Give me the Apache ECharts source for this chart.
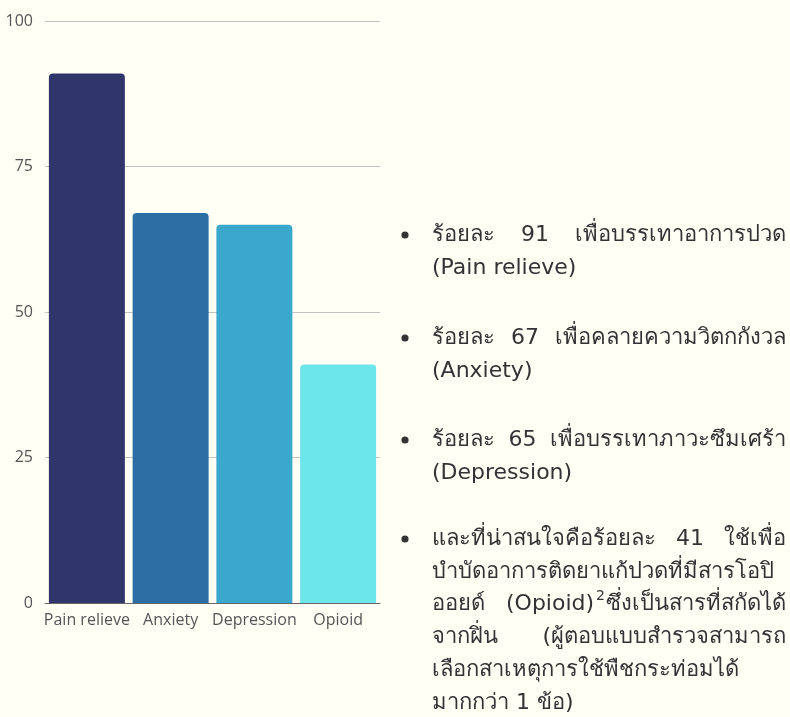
<!DOCTYPE html>
<html><head><meta charset="utf-8">
<script src="https://cdn.jsdelivr.net/npm/echarts@6/dist/echarts.min.js"></script>
<style>html,body{margin:0;padding:0;background:#fffff6;}#c{width:790px;height:717px;}</style>
</head><body><div id="c"></div>
<script>
const categories = ['Pain relieve', 'Anxiety', 'Depression', 'Opioid'];
const values = [91, 67, 65, 41];
const barColors = ['#30356a', '#2c6ea3', '#3aa8cc', '#6de6ea'];
const yTicks = [0, 25, 50, 75, 100];

// right-hand bullet text, line by line; j = spread words to full width
const bulletLines = [
  [{t: 'ร้อยละ 91 เพื่อบรรเทาอาการปวด', j: true}, {t: '(Pain relieve)'}],
  [{t: 'ร้อยละ 67 เพื่อคลายความวิตกกังวล', j: true}, {t: '(Anxiety)'}],
  [{t: 'ร้อยละ 65 เพื่อบรรเทาภาวะซึมเศร้า', j: true}, {t: '(Depression)'}],
  [{t: 'และที่น่าสนใจคือร้อยละ 41 ใช้เพื่อ', j: true},
   {t: 'บำบัดอาการติดยาแก้ปวดที่มีสารโอปิ'},
   {t: 'ออยด์|(Opioid)|2|ซึ่งเป็นสารที่สกัดได้', sup: true},
   {t: 'จากฝิ่น (ผู้ตอบแบบสำรวจสามารถ', j: true},
   {t: 'เลือกสาเหตุการใช้พืชกระท่อมได้'},
   {t: 'มากกว่า 1 ข้อ)'}]
];
const itemTops = [235, 338, 440, 539];

const FONT = '"DejaVu Sans", sans-serif';
const FS = 22;
const TX0 = 432, TX1 = 786, LH = 32.8;
const mctx = document.createElement('canvas').getContext('2d');
function w(s, fs) { mctx.font = (fs || FS) + 'px ' + FONT; return mctx.measureText(s).width; }

const graphics = [];
function txt(x, y, s, align, fs) {
  graphics.push({type: 'text', x: x, y: y, style: {text: s, font: (fs || FS) + 'px ' + FONT, fill: '#333', textAlign: align || 'left', textVerticalAlign: 'middle'}});
}
bulletLines.forEach((item, i) => {
  const y0 = itemTops[i];
  graphics.push({type: 'circle', shape: {cx: 405, cy: y0, r: 3.6}, style: {fill: '#333'}});
  item.forEach((ln, k) => {
    const y = y0 + k * LH;
    if (ln.sup) {
      const p = ln.t.split('|');
      txt(TX0, y, p[0]);
      const rightW = w(p[3]);
      const supW = w(p[2], 14);
      txt(TX1, y, p[3], 'right');
      const supX = TX1 - rightW - 1 - supW;
      txt(supX, y - 8, p[2], 'left', 14);
      txt(supX - 2, y, p[1], 'right');
    } else if (ln.j) {
      const words = ln.t.split(' ');
      const tot = words.reduce((a, s) => a + w(s), 0);
      const gap = Math.max(w(' '), (TX1 - TX0 - tot) / (words.length - 1));
      let x = TX0;
      words.forEach(s => { txt(x, y, s); x += w(s) + gap; });
    } else {
      txt(TX0, y, ln.t);
    }
  });
});

const chart = echarts.init(document.getElementById('c'));
chart.setOption({
  backgroundColor: '#fffff6',
  animation: false,
  grid: {left: 45, right: 410, top: 21, bottom: 114},
  xAxis: {
    type: 'category', data: categories,
    axisTick: {show: false},
    axisLine: {lineStyle: {color: '#666', width: 1}},
    axisLabel: {color: '#555', fontSize: 16, fontFamily: '"Open Sans"', margin: 9, interval: 0}
  },
  yAxis: {
    type: 'value', min: 0, max: 100, interval: 25,
    axisLabel: {color: '#555', fontSize: 16, fontFamily: '"Open Sans"', margin: 12,
      formatter: v => yTicks.includes(v) ? String(v) : ''},
    splitLine: {lineStyle: {color: '#c4c4c4'}}
  },
  series: [{
    type: 'bar', data: values.map((v, i) => ({value: v, itemStyle: {color: barColors[i]}})),
    barWidth: 76, itemStyle: {borderRadius: [4, 4, 0, 0]}
  }],
  graphic: graphics
});
</script></body></html>
